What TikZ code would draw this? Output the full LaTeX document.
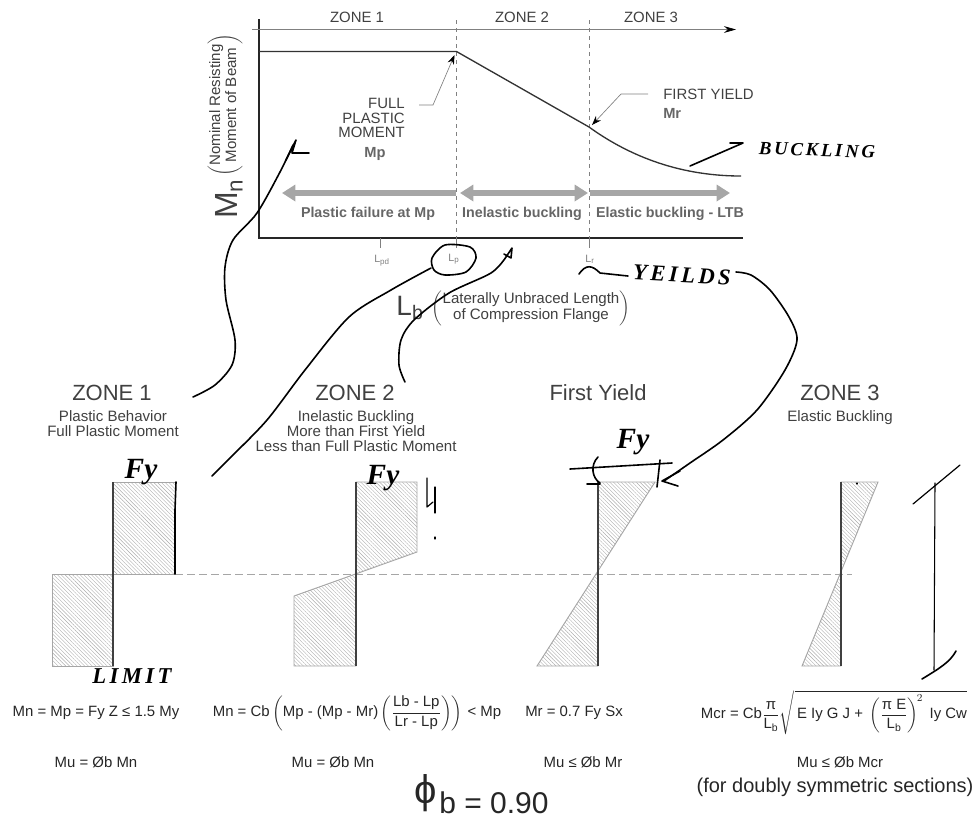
\documentclass[tikz,border=0pt]{standalone}
\usepackage{amsmath}
\usepackage{fontspec}
\setmainfont{Liberation Sans}
\newfontfamily\inkfont{Liberation Serif}[LetterSpace=15]
\newfontfamily\fyfont{Liberation Serif}
\usetikzlibrary{arrows.meta,patterns.meta}
\definecolor{printgray}{gray}{0.25}
\definecolor{lightgray}{gray}{0.65}
\tikzset{
	graphtext/.style={text=printgray,font=\fontsize{11.2}{11}\selectfont,inner sep=0pt,align=center},
	boldtext/.style={text=printgray!80,font=\fontsize{10.7}{11}\bfseries\selectfont,inner sep=0pt},
	headtext/.style={text=printgray,font=\fontsize{16.5}{18}\selectfont,inner sep=0pt},
	subtext/.style={text=printgray,font=\fontsize{11.3}{11.25}\selectfont,inner sep=0pt,align=center},
	formula/.style={text=black!85,font=\fontsize{11.2}{13}\selectfont,inner sep=0pt},
	inktext/.style={font=\fontsize{14}{16}\inkfont\itshape\bfseries\selectfont,inner sep=0pt},
	fytext/.style={font=\fontsize{22}{24}\fyfont\itshape\bfseries\selectfont,inner sep=0pt},
	ink/.style={line width=1.2pt,line cap=round,line join=round},
	web/.style={line width=1.5pt,draw=printgray},
	hatchfill/.style={draw=lightgray,line width=0.7pt,pattern={Lines[angle=-45,distance=2pt,line width=0.3pt]},pattern color=gray!65},
	zonearrow/.style={line width=4pt,draw=lightgray,-{Triangle[length=10pt,width=12pt]}},
	zonebothway/.style={line width=4pt,draw=lightgray,{Triangle[length=10pt,width=12pt]}-{Triangle[length=10pt,width=12pt]}},
	leader/.style={draw=gray,line width=0.5pt,-{Stealth[length=7pt,width=5pt,black]}}
}

\begin{document}
\begin{tikzpicture}[x=0.75pt,y=-0.75pt]
	\useasboundingbox (0,0) rectangle (977,819);

	% Ejes de la grafica
	\coordinate (origin) at (259,238);
	\coordinate (axis_top) at (259,19);
	\coordinate (axis_end) at (743,238);
	\coordinate (limit_p) at (456.5,51.5);
	\coordinate (limit_r) at (589,127);
	\coordinate (curve_end) at (741,176);
	\draw[line width=2pt,draw=black!85] (axis_top) -- (origin) -- (axis_end);
	\draw[draw=gray,line width=0.5pt,-{Stealth[length=9pt,width=5pt,black]}] (252,29.5) -- (736,29.5);
	\draw[dashed,draw=gray,line width=0.5pt] (456.5,20) -- (456.5,238);
	\draw[dashed,draw=gray,line width=0.5pt] (589,20) -- (589,238);
	\draw[draw=gray,line width=0.5pt] (380,238) -- (380,248);
	\draw[draw=gray,line width=0.5pt] (456.5,238) -- (456.5,248);
	\draw[draw=gray,line width=0.5pt] (589,238) -- (589,248);

	% Curva
	\draw[line width=1pt,draw=black!80] (259,51.5) -- (limit_p) -- (limit_r) .. controls (625,153) and (675,176) .. (curve_end);

	% Etiquetas de la grafica
	\node[graphtext] (zone_one) at (357,17) {ZONE 1};
	\node[graphtext] (zone_two) at (522,17) {ZONE 2};
	\node[graphtext] (zone_three) at (651,17) {ZONE 3};
	\node[graphtext,align=right,anchor=north east] (full_plastic) at (405,98) {FULL\\PLASTIC\\MOMENT};
	\node[boldtext,font=\fontsize{11}{11}\bfseries\selectfont] (mp_label) at (375,154) {Mp};
	\node[graphtext,anchor=west] (first_yield) at (663,94) {FIRST YIELD};
	\node[boldtext,font=\fontsize{11}{11}\bfseries\selectfont,anchor=west] (mr_label) at (663,113) {Mr};
	\draw[leader] (419,105) -- (433,105) -- (454.5,55);
	\draw[leader] (first_yield.west) ++(-15,0) -- (621,94) -- (592,125);

	% Flechas de zona
	\draw[zonearrow] (456,193) -- (282,193);
	\draw[zonebothway] (460,193) -- (588,193);
	\draw[zonearrow] (590,193) -- (730,193);
	\node[boldtext] (plastic_failure) at (368,214) {Plastic failure at Mp};
	\node[boldtext] (inelastic) at (522,214) {Inelastic buckling};
	\node[boldtext] (elastic) at (670,214) {Elastic buckling - LTB};

	% Rotulos de los ejes
	\node[text=printgray,inner sep=0pt,rotate=90,font=\fontsize{24}{26}\selectfont] (mn_label) at (229,199) {M$_{\text{n}}$};
	\node[text=printgray,inner sep=0pt,rotate=90,font=\fontsize{11.3}{12}\selectfont] (mn_note) at (225,105) {$\left(\begin{tabular}{@{}c@{}}Nominal Resisting\\Moment of Beam\end{tabular}\right)$};
	\node[text=gray,inner sep=0pt,font=\fontsize{8}{9}\selectfont] (lpd_label) at (382,261) {L$_{\text{pd}}$};
	\node[text=gray,inner sep=0pt,font=\fontsize{8}{9}\selectfont] (lp_label) at (454,259) {L$_{\text{p}}$};
	\node[text=gray,inner sep=0pt,font=\fontsize{8}{9}\selectfont] (lr_label) at (590,259) {L$_{\text{r}}$};
	\node[text=printgray,inner sep=0pt,font=\fontsize{21}{23}\selectfont] (lb_label) at (410,308) {L$_{\text{b}}$};
	\node[text=printgray,inner sep=0pt,font=\fontsize{11.3}{12}\selectfont] (lb_note) at (531,308) {$\left(\begin{tabular}{@{}c@{}}Laterally Unbraced Length\\of Compression Flange\end{tabular}\right)$};

	% Encabezados
	\node[headtext] (head_one) at (112,393) {ZONE 1};
	\node[subtext,anchor=north] (sub_one) at (113,410) {Plastic Behavior\\Full Plastic Moment};
	\node[headtext] (head_two) at (355,393) {ZONE 2};
	\node[subtext,anchor=north] (sub_two) at (356,410) {Inelastic Buckling\\More than First Yield\\Less than Full Plastic Moment};
	\node[headtext] (head_yield) at (598,393) {First Yield};
	\node[headtext] (head_three) at (840,393) {ZONE 3};
	\node[subtext,anchor=north] (sub_three) at (840,410) {Elastic Buckling};

	% Diagramas de esfuerzo
	\draw[dashed,draw=lightgray,line width=0.6pt,dash pattern=on 6pt off 3pt] (175,574) -- (852,574);
	\draw[hatchfill] (113,482) -- (175,482) -- (175,574) -- (52,574) -- (52,666) -- (113,666) -- cycle;
	\draw[web] (113,482) -- (113,666);
	\draw[hatchfill] (356,482) -- (417,482) -- (417,552) -- (294,596) -- (294,666) -- (356,666) -- cycle;
	\draw[web] (356,482) -- (356,666);
	\draw[hatchfill] (598,482) -- (655,482) -- (537,666) -- (598,666) -- cycle;
	\draw[web] (598,482) -- (598,666);
	\draw[hatchfill] (841,482) -- (878,482) -- (802,666) -- (841,666) -- cycle;
	\draw[web] (841,482) -- (841,666);

	% Formulas
	\node[formula] (eq_one) at (96,713) {Mn = Mp = Fy Z ≤ 1.5 My};
	\node[formula] (eq_two) at (357,713) {$\text{Mn = Cb}\left(\text{Mp - (Mp - Mr)}\left(\dfrac{\text{Lb - Lp}}{\text{Lr - Lp}}\right)\right)\text{\,< Mp}$};
	\node[formula] (eq_yield) at (574,713) {Mr = 0.7 Fy Sx};
	\node[formula] (eq_three) at (834,713) {$\text{Mcr = Cb}\dfrac{\text{π}}{\text{L}_{\text{b}}}\sqrt{\,\text{E Iy G J + }\left(\dfrac{\text{π E}}{\text{L}_{\text{b}}}\right)^{\!2}\text{ Iy Cw}}$};
	\node[formula] (mu_one) at (96,762) {Mu = Øb Mn};
	\node[formula] (mu_two) at (333,762) {Mu = Øb Mn};
	\node[formula] (mu_yield) at (583,762) {Mu ≤ Øb Mr};
	\node[formula] (mu_three) at (840,762) {Mu ≤ Øb Mcr};
	\node[inner sep=0pt,text=black!85,font=\fontsize{15}{17}\selectfont] (doubly) at (835,787) {(for doubly symmetric sections)};
	\node[inner sep=0pt,text=black!85,font=\fontsize{22.5}{24}\selectfont,anchor=west] (phi_value) at (439,803) {b = 0.90};
	\node[inner sep=0pt,text=black!85,font=\fontsize{30}{34}\selectfont,anchor=east] (phi_sign) at (437,793) {\symbol{"03D5}};

	% Notas a mano
	\node[inktext,rotate=-2] (ink_buckling) at (817,150) {BUCKLING};
	\node[inktext,rotate=-3,font=\fontsize{17}{19}\inkfont\itshape\bfseries\selectfont] (ink_yields) at (682,275) {YEILDS};
	\node[inktext,font=\fontsize{17}{19}\inkfont\itshape\bfseries\selectfont] (ink_limit) at (132,676) {LIMIT};
	\node[fytext] (ink_fy_one) at (141,472) {Fy};
	\node[fytext] (ink_fy_two) at (383,478) {Fy};
	\node[fytext] (ink_fy_yield) at (633,442) {Fy};

	\draw[ink] (690,166) -- (743,143) -- (730,143);
	\draw[ink] plot[smooth] coordinates {(193,397) (215,385) (232,365) (235,340) (226,300) (225,267) (233,240) (257,213) (280,172) (293,145)};
	\draw[ink] (286,160) -- (296,140) -- (292,153) -- (309,153);
	\draw[ink] plot[smooth cycle] coordinates {(432,258) (445,245) (470,247) (476,258) (466,272) (445,275) (434,270)};
	\draw[ink] plot[smooth] coordinates {(431,268) (391,290) (349,317) (305,370) (267,420) (230,458) (212,476)};
	\draw[ink] plot[smooth] coordinates {(405,382) (399,365) (401,340) (414,320) (449,293) (491,273) (506,257)};
	\draw[ink] (506,257) -- (512,248) -- (511,258) -- (504,254);
	\draw[ink] plot[smooth] coordinates {(736,272) (751,275) (770,290) (789,317) (797,340) (785,370) (757,410) (723,440) (690,463) (664,481)};
	\draw[ink] (680,471) -- (662,481) -- (678,486);
	\draw[ink] (628,276) -- (600,273) .. controls (592,265) and (586,264) .. (579,274);
	\draw[ink] (176,482) -- (175,510) -- (175,574);
	\draw[ink] (570,469) -- (672,463);
	\draw[ink] (598,457) .. controls (590,465) and (592,478) .. (600,483);
	\draw[ink] (587,484) -- (600,484);
	\draw[ink] (660,460) -- (657,487);
	\draw[ink,line width=0.9pt] (427,478) -- (427,507) -- (433,502);
	\draw[ink,line width=0.9pt] (435,487) -- (435,513);
	\draw[ink,line width=0.9pt] (435,537) -- (435,539);
	\draw[ink,line width=0.9pt] (857,483) -- (857,484);
	\draw[ink,line width=0.8pt] (935,483) -- (934,670);
	\draw[ink,line width=0.9pt] (913,504) -- (960,465);
	\draw[ink] (922,679) .. controls (940,668) and (950,662) .. (956,651);
\end{tikzpicture}
\end{document}
